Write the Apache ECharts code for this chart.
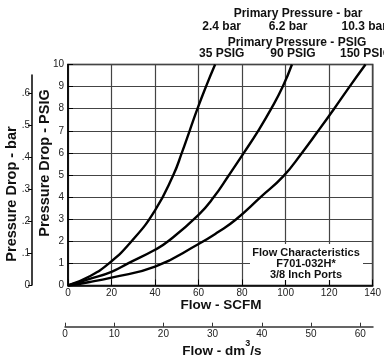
<!DOCTYPE html>
<html>
<head>
<meta charset="utf-8">
<script src="https://cdn.jsdelivr.net/npm/echarts@6/dist/echarts.min.js"></script>
<style>html,body{margin:0;padding:0;background:#fff}#c{width:384px;height:360px}</style>
</head>
<body>
<div id="c"></div>
<script>
// Curves: [flow SCFM, pressure drop PSIG]
var curve35psig = [[0,0],[10,0.42],[18.8,1],[29.2,2],[40,3.4],[48.4,5],[52.3,6],[55.9,7],[59.5,8],[63.4,9],[67.6,10]];
var curve90psig = [[0,0],[10,0.3],[20,0.62],[27.6,1],[40,1.62],[46,2],[60,3.2],[67,4],[74,5],[80.8,6],[87.4,7],[93.4,8],[98.7,9],[102.9,10]];
var curve150psig = [[0,0],[10,0.16],[20,0.36],[40,0.85],[60,1.88],[69,2.42],[77.3,3],[88.5,4],[99,4.95],[107.5,6],[115,7],[122.3,8],[129.4,9],[136.7,10]];

var scfmTicks = [0,20,40,60,80,100,120,140];
var psigTicks = [0,1,2,3,4,5,6,7,8,9,10];
var barTicks = [0,0.1,0.2,0.3,0.4,0.5,0.6];
var dm3Ticks = [0,10,20,30,40,50,60];

var barLabels = ['2.4 bar','6.2 bar','10.3 bar'];
var psigLabels = ['35 PSIG','90 PSIG','150 PSIG'];
var boxLines = ['Flow Characteristics','F701-032H*','3/8 Inch Ports'];

var FONT = 'Liberation Sans, Arial, Helvetica, sans-serif';
var chart = echarts.init(document.getElementById('c'), null, {renderer:'canvas'});

function lineSeries(d){
  return {type:'line', xAxisIndex:0, yAxisIndex:0, data:d, smooth:0.5, symbol:'none',
    lineStyle:{color:'#000', width:2.4}, z:5, silent:true};
}
var lblStyle = {fontSize:10, color:'#222', fontFamily:FONT};

chart.setOption({
  animation:false,
  textStyle:{fontFamily:FONT},
  grid:[
    {left:68, top:64.5, width:306, height:221, show:true, borderColor:'#000', borderWidth:1.5, backgroundColor:'transparent', containLabel:false},
    {left:32, top:75, width:1, height:210, containLabel:false},
    {left:65, top:300, width:308, height:26.7, containLabel:false}
  ],
  xAxis:[
    {gridIndex:0, type:'value', min:0, max:140, interval:20,
      axisLine:{lineStyle:{color:'#000', width:1.5}},
      axisTick:{inside:true, length:6, lineStyle:{color:'#000'}},
      axisLabel:Object.assign({margin:3}, lblStyle),
      splitLine:{show:true, lineStyle:{color:'#444', width:1.2}}},
    {gridIndex:1, type:'value', show:false, min:0, max:1},
    {gridIndex:2, type:'value', min:0, max:62.6, interval:10, position:'bottom',
      axisLine:{lineStyle:{color:'#333', width:1.5}},
      axisTick:{inside:true, length:4, lineStyle:{color:'#333'}},
      axisLabel:Object.assign({margin:3, showMaxLabel:false}, lblStyle),
      splitLine:{show:false}}
  ],
  yAxis:[
    {gridIndex:0, type:'value', min:0, max:10, interval:1,
      axisLine:{show:true, lineStyle:{color:'#000', width:1.5}},
      axisTick:{inside:true, length:5, lineStyle:{color:'#000'}},
      axisLabel:Object.assign({margin:4}, lblStyle),
      splitLine:{show:true, lineStyle:{color:'#444', width:1.2}}},
    {gridIndex:1, type:'value', min:0, max:0.656, interval:0.1, position:'left',
      axisLine:{show:true, lineStyle:{color:'#000', width:1.5}},
      axisTick:{show:true, inside:false, length:4, lineStyle:{color:'#000'}},
      axisLabel:Object.assign({margin:2, showMaxLabel:false, formatter:function(v){
        if (v === 0) return '0';
        return String(+v.toFixed(1)).replace(/^0/, '');
      }}, lblStyle),
      splitLine:{show:false}},
    {gridIndex:2, type:'value', show:false, min:0, max:1}
  ],
  series:[lineSeries(curve35psig), lineSeries(curve90psig), lineSeries(curve150psig)],
  graphic:[
    {type:'rect', shape:{x:250, y:244, width:113, height:36}, style:{fill:'#fff'}, z:10},
    {type:'text', x:306, y:264, z:11, style:{text:boxLines.join('\n'), font:'bold 11px '+FONT, fill:'#111', align:'center', verticalAlign:'middle', lineHeight:10.7}},
    {type:'text', x:298, y:13.5, style:{text:'Primary Pressure - bar', font:'bold 12px '+FONT, fill:'#111', align:'center', verticalAlign:'middle'}},
    {type:'text', x:221.7, y:26.5, style:{text:barLabels[0], font:'bold 12px '+FONT, fill:'#111', align:'center', verticalAlign:'middle'}},
    {type:'text', x:288, y:26.5, style:{text:barLabels[1], font:'bold 12px '+FONT, fill:'#111', align:'center', verticalAlign:'middle'}},
    {type:'text', x:341.5, y:26.5, style:{text:barLabels[2], font:'bold 12px '+FONT, fill:'#111', align:'left', verticalAlign:'middle'}},
    {type:'text', x:297, y:43, style:{text:'Primary Pressure - PSIG', font:'bold 12px '+FONT, fill:'#111', align:'center', verticalAlign:'middle'}},
    {type:'text', x:221.7, y:53.5, style:{text:psigLabels[0], font:'bold 12px '+FONT, fill:'#111', align:'center', verticalAlign:'middle'}},
    {type:'text', x:293, y:53.5, style:{text:psigLabels[1], font:'bold 12px '+FONT, fill:'#111', align:'center', verticalAlign:'middle'}},
    {type:'text', x:340, y:53.5, style:{text:psigLabels[2], font:'bold 12px '+FONT, fill:'#111', align:'left', verticalAlign:'middle'}},
    {type:'text', x:12, y:194, rotation:Math.PI/2, style:{text:'Pressure Drop - bar', font:'bold 14.5px '+FONT, fill:'#111', align:'center', verticalAlign:'middle'}},
    {type:'text', x:45, y:163, rotation:Math.PI/2, style:{text:'Pressure Drop - PSIG', font:'bold 14.5px '+FONT, fill:'#111', align:'center', verticalAlign:'middle'}},
    {type:'text', x:221, y:305, style:{text:'Flow - SCFM', font:'bold 13.5px '+FONT, fill:'#111', align:'center', verticalAlign:'middle'}},
    {type:'text', x:222, y:351, style:{text:'{t|Flow - dm}{s|3}{t|/s}', align:'center', verticalAlign:'middle',
      rich:{t:{font:'bold 13.5px '+FONT, fill:'#111', lineHeight:24}, s:{font:'bold 9px '+FONT, fill:'#111', verticalAlign:'top', lineHeight:10}}}}
  ]
});
</script>
</body>
</html>
